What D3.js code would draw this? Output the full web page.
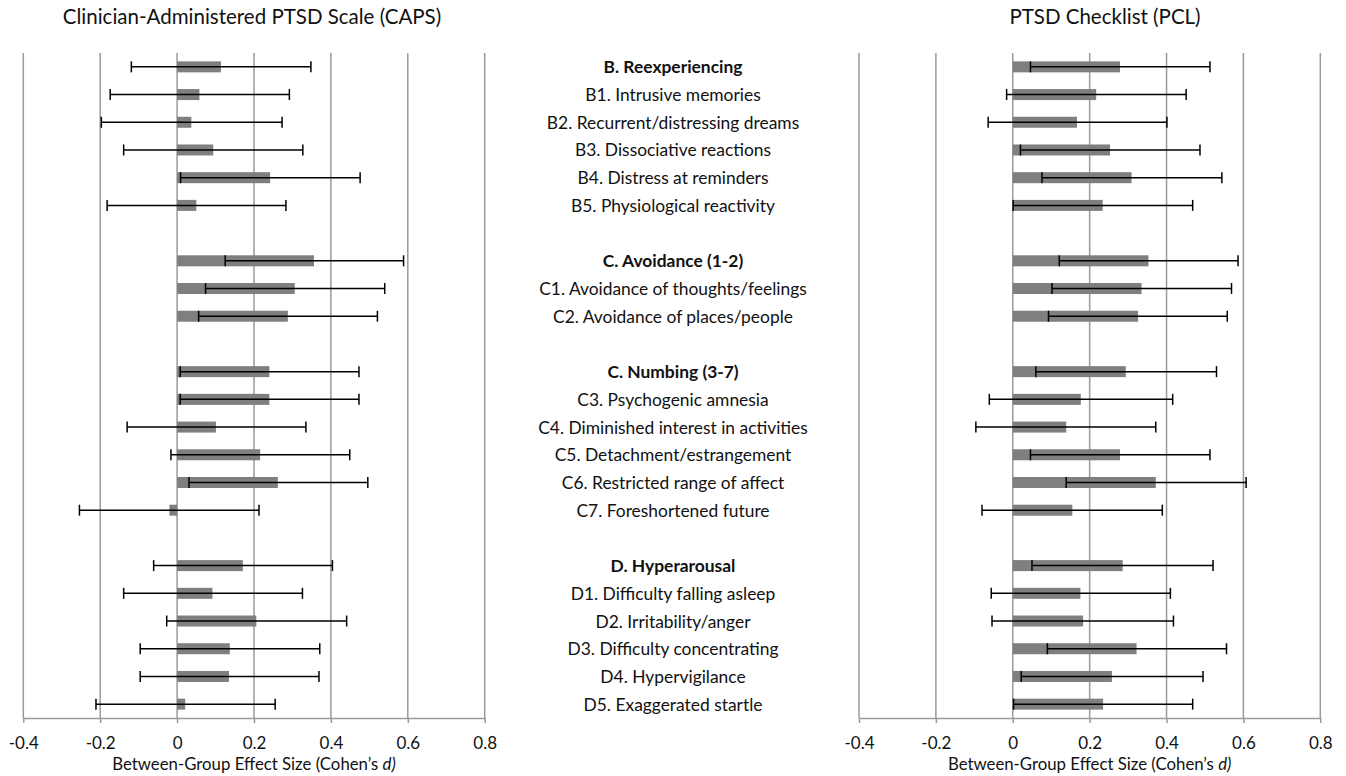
<!DOCTYPE html>
<html>
<head>
<meta charset="utf-8">
<script src="https://cdn.jsdelivr.net/npm/d3@7"></script>
<style>
  body { margin: 0; background: #fff; }
  svg text { font-family: Lato, "Open Sans", sans-serif; fill: #111; }
</style>
</head>
<body>
<svg id="chart" width="1346" height="776"></svg>
<script>
// row labels, top to bottom ("" = spacer row)
const items = [
  "B. Reexperiencing", "B1. Intrusive memories", "B2. Recurrent/distressing dreams",
  "B3. Dissociative reactions", "B4. Distress at reminders", "B5. Physiological reactivity", "",
  "C. Avoidance (1-2)", "C1. Avoidance of thoughts/feelings", "C2. Avoidance of places/people", "",
  "C. Numbing (3-7)", "C3. Psychogenic amnesia", "C4. Diminished interest in activities",
  "C5. Detachment/estrangement", "C6. Restricted range of affect", "C7. Foreshortened future", "",
  "D. Hyperarousal", "D1. Difficulty falling asleep", "D2. Irritability/anger",
  "D3. Difficulty concentrating", "D4. Hypervigilance", "D5. Exaggerated startle"
];
const headers = ["B. Reexperiencing", "C. Avoidance (1-2)", "C. Numbing (3-7)", "D. Hyperarousal"];

// CAPS effect sizes and CI bounds
const capsD  = [0.114, 0.058, 0.037, 0.094, 0.242, 0.050, null, 0.356, 0.306, 0.288, null,
                0.240, 0.240, 0.101, 0.216, 0.262, -0.020, null, 0.171, 0.092, 0.206, 0.137, 0.135, 0.021];
const capsLo = [-0.119, -0.174, -0.197, -0.139, 0.009, -0.182, null, 0.125, 0.074, 0.056, null,
                0.008, 0.008, -0.130, -0.016, 0.031, -0.254, null, -0.061, -0.139, -0.027, -0.096, -0.096, -0.211];
const capsHi = [0.348, 0.292, 0.273, 0.327, 0.476, 0.283, null, 0.589, 0.540, 0.521, null,
                0.473, 0.473, 0.335, 0.449, 0.496, 0.213, null, 0.404, 0.326, 0.441, 0.371, 0.369, 0.255];

// PCL effect sizes and CI bounds
const pclD  = [0.279, 0.217, 0.167, 0.253, 0.309, 0.234, null, 0.353, 0.335, 0.326, null,
               0.294, 0.177, 0.139, 0.279, 0.372, 0.155, null, 0.286, 0.176, 0.183, 0.322, 0.258, 0.235];
const pclLo = [0.046, -0.016, -0.064, 0.020, 0.076, 0.001, null, 0.121, 0.102, 0.093, null,
               0.060, -0.061, -0.096, 0.046, 0.139, -0.080, null, 0.050, -0.056, -0.054, 0.090, 0.022, 0.002];
const pclHi = [0.513, 0.451, 0.401, 0.487, 0.544, 0.468, null, 0.586, 0.569, 0.558, null,
               0.530, 0.416, 0.372, 0.513, 0.607, 0.389, null, 0.521, 0.410, 0.418, 0.556, 0.495, 0.468];

const xTicks = [-0.4, -0.2, 0, 0.2, 0.4, 0.6, 0.8];

const svg = d3.select("#chart");
const plotTop = 53, plotBottom = 718;

const y = d3.scaleBand()
    .domain(d3.range(items.length))
    .range([plotTop, plotBottom]);

const barH = 11;

function panel(title, titleX, x0, x1, vals, lo, hi) {
    const x = d3.scaleLinear().domain([-0.4, 0.8]).range([x0, x1]);
    const g = svg.append("g");

    // gridlines
    g.selectAll(".grid")
        .data(xTicks)
        .enter().append("line")
        .attr("x1", d => x(d)).attr("x2", d => x(d))
        .attr("y1", plotTop).attr("y2", plotBottom)
        .attr("stroke", "#9a9a9a")
        .attr("stroke-width", 1.5);

    // bottom axis
    const ax = g.append("g")
        .attr("transform", `translate(0,${plotBottom})`)
        .call(d3.axisBottom(x).tickValues(xTicks).tickSize(5).tickSizeOuter(0)
            .tickFormat(d => d === 0 ? "0" : d.toFixed(1)));
    ax.select(".domain").attr("stroke", "#9a9a9a").attr("stroke-width", 1.5);
    ax.selectAll(".tick line").attr("stroke", "#9a9a9a").attr("stroke-width", 1.5);
    ax.selectAll(".tick text")
        .attr("y", 24)
        .attr("dy", null)
        .attr("dominant-baseline", "central")
        .style("font-size", "17px")
        .style("font-family", "Lato, 'Open Sans', sans-serif")
        .attr("fill", "#111");

    const rows = d3.range(items.length).filter(i => vals[i] != null);

    // bars
    g.selectAll(".bar")
        .data(rows)
        .enter().append("rect")
        .attr("x", i => x(Math.min(0, vals[i])))
        .attr("width", i => Math.abs(x(vals[i]) - x(0)))
        .attr("y", i => y(i) + y.bandwidth() / 2 - barH / 2)
        .attr("height", barH)
        .attr("fill", "#7f7f7f");

    // error bars
    const eb = g.selectAll(".err")
        .data(rows)
        .enter().append("g")
        .attr("stroke", "#000")
        .attr("stroke-width", 1.5);
    eb.append("line")
        .attr("x1", i => x(lo[i])).attr("x2", i => x(hi[i]))
        .attr("y1", i => y(i) + y.bandwidth() / 2)
        .attr("y2", i => y(i) + y.bandwidth() / 2);
    eb.append("line")
        .attr("x1", i => x(lo[i])).attr("x2", i => x(lo[i]))
        .attr("y1", i => y(i) + y.bandwidth() / 2 - 5.5)
        .attr("y2", i => y(i) + y.bandwidth() / 2 + 5.5);
    eb.append("line")
        .attr("x1", i => x(hi[i])).attr("x2", i => x(hi[i]))
        .attr("y1", i => y(i) + y.bandwidth() / 2 - 5.5)
        .attr("y2", i => y(i) + y.bandwidth() / 2 + 5.5);

    // title
    svg.append("text")
        .attr("x", titleX).attr("y", 16)
        .attr("text-anchor", "middle")
        .attr("dominant-baseline", "central")
        .style("font-size", "20.5px")
        .text(title);

    // axis title
    const t = svg.append("text")
        .attr("x", (x0 + x1) / 2).attr("y", 763)
        .attr("text-anchor", "middle")
        .attr("dominant-baseline", "central")
        .style("font-size", "16.8px");
    t.append("tspan").text("Between-Group Effect Size (Cohen\u2019s ");
    t.append("tspan").style("font-style", "italic").text("d)");
}

panel("Clinician-Administered PTSD Scale (CAPS)", 252, 23.3, 484.7, capsD, capsLo, capsHi);
panel("PTSD Checklist (PCL)", 1105, 859, 1320.3, pclD, pclLo, pclHi);

// centre labels
svg.append("g").selectAll("text")
    .data(items)
    .enter().append("text")
    .attr("x", 673)
    .attr("y", (d, i) => y(i) + y.bandwidth() / 2)
    .attr("text-anchor", "middle")
    .attr("dominant-baseline", "central")
    .style("font-size", "17.4px")
    .style("font-weight", d => headers.includes(d) ? "bold" : "normal")
    .text(d => d);
</script>
</body>
</html>
